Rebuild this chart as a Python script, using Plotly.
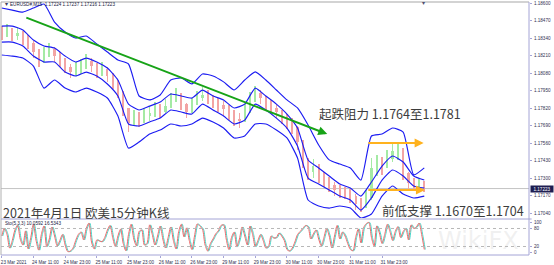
import plotly.graph_objects as go

# ---------------- data ----------------
candle_bar = list(range(0, 641, 8))          # 15-min bar index of each (aggregated) candle
first_open = 1.18401
candle_close = [1.18372, 1.18401, 1.18357, 1.18379, 1.18335, 1.18305, 1.18238, 1.18178, 1.18223, 1.18260,
                1.18208, 1.18171, 1.18126, 1.18089, 1.18112, 1.18134, 1.18171, 1.18134, 1.18089, 1.18112,
                1.18060, 1.18015, 1.17941, 1.17822, 1.17710, 1.17755, 1.17725, 1.17762, 1.17784, 1.17814,
                1.17792, 1.17836, 1.17881, 1.17926, 1.17851, 1.17792, 1.17844, 1.17896, 1.17918, 1.17889,
                1.17859, 1.17844, 1.17814, 1.17784, 1.17740, 1.17725, 1.17792, 1.17881, 1.17933, 1.17896,
                1.17851, 1.17822, 1.17792, 1.17747, 1.17718, 1.17680, 1.17569, 1.17435, 1.17346, 1.17390,
                1.17316, 1.17286, 1.17249, 1.17212, 1.17197, 1.17182, 1.17167, 1.17108, 1.17093, 1.17153,
                1.17376, 1.17405, 1.17383, 1.17442, 1.17502, 1.17509, 1.17338, 1.17264, 1.17249, 1.17257,
                1.17223]
candle_high = [1.18431, 1.18446, 1.18416, 1.18424, 1.18394, 1.18364, 1.18320, 1.18260, 1.18275, 1.18305,
               1.18275, 1.18238, 1.18193, 1.18149, 1.18164, 1.18186, 1.18223, 1.18193, 1.18156, 1.18164,
               1.18126, 1.18082, 1.18030, 1.17948, 1.17822, 1.17807, 1.17792, 1.17822, 1.17836, 1.17866,
               1.17851, 1.17889, 1.17933, 1.17970, 1.17933, 1.17859, 1.17896, 1.17948, 1.17978, 1.17955,
               1.17918, 1.17896, 1.17874, 1.17844, 1.17807, 1.17784, 1.17851, 1.17941, 1.17985, 1.17955,
               1.17911, 1.17881, 1.17851, 1.17807, 1.17777, 1.17747, 1.17688, 1.17584, 1.17450, 1.17442,
               1.17405, 1.17346, 1.17309, 1.17272, 1.17249, 1.17234, 1.17220, 1.17182, 1.17153, 1.17212,
               1.17450, 1.17472, 1.17457, 1.17509, 1.17561, 1.17569, 1.17524, 1.17346, 1.17301, 1.17301,
               1.17279]
candle_low = [1.18327, 1.18349, 1.18320, 1.18327, 1.18290, 1.18260, 1.18193, 1.18126, 1.18156, 1.18201,
              1.18164, 1.18126, 1.18082, 1.18045, 1.18060, 1.18074, 1.18112, 1.18089, 1.18045, 1.18060,
              1.18015, 1.17963, 1.17896, 1.17762, 1.17643, 1.17688, 1.17680, 1.17710, 1.17725, 1.17755,
              1.17747, 1.17784, 1.17822, 1.17866, 1.17807, 1.17747, 1.17784, 1.17844, 1.17874, 1.17851,
              1.17822, 1.17792, 1.17762, 1.17732, 1.17688, 1.17673, 1.17718, 1.17785, 1.17866, 1.17851,
              1.17807, 1.17777, 1.17747, 1.17703, 1.17665, 1.17628, 1.17509, 1.17376, 1.17286, 1.17301,
              1.17264, 1.17234, 1.17197, 1.17167, 1.17153, 1.17145, 1.17115, 1.17063, 1.17049, 1.17078,
              1.17140, 1.17316, 1.17324, 1.17376, 1.17420, 1.17435, 1.17286, 1.17212, 1.17205, 1.17212,
              1.17197]

band_bar = list(range(0, 641, 16))
band_outer_upper = [1.18565, 1.18550, 1.18535, 1.18565, 1.18595, 1.18461, 1.18387, 1.18342, 1.18357, 1.18298,
                    1.18238, 1.18179, 1.18149, 1.17911, 1.17882, 1.17919, 1.18030, 1.18045, 1.18001, 1.18075,
                    1.18060, 1.18016, 1.17956, 1.18030, 1.18090, 1.18030, 1.17956, 1.17882, 1.17822, 1.17695,
                    1.17547, 1.17436, 1.17405, 1.17376, 1.17286, 1.17614, 1.17628, 1.17673, 1.17643, 1.17325,
                    1.17377]
band_inner_upper = [1.18431, 1.18431, 1.18401, 1.18327, 1.18283, 1.18268, 1.18208, 1.18164, 1.18193, 1.18164,
                    1.18119, 1.18030, 1.17851, 1.17807, 1.17836, 1.17866, 1.17926, 1.17911, 1.17896, 1.17955,
                    1.17911, 1.17881, 1.17822, 1.17851, 1.17970, 1.17911, 1.17851, 1.17777, 1.17673, 1.17435,
                    1.17376, 1.17316, 1.17257, 1.17227, 1.17167, 1.17272, 1.17390, 1.17465, 1.17420, 1.17316,
                    1.17286]
band_inner_lower = [1.18312, 1.18312, 1.18283, 1.18208, 1.18164, 1.18164, 1.18089, 1.18060, 1.18089, 1.18060,
                    1.18000, 1.17911, 1.17703, 1.17688, 1.17718, 1.17747, 1.17807, 1.17792, 1.17777, 1.17851,
                    1.17807, 1.17762, 1.17703, 1.17732, 1.17851, 1.17807, 1.17747, 1.17673, 1.17539, 1.17301,
                    1.17257, 1.17212, 1.17167, 1.17138, 1.17063, 1.17153, 1.17286, 1.17361, 1.17316, 1.17242,
                    1.17227]
band_outer_lower = [1.18216, 1.18208, 1.18193, 1.18134, 1.17970, 1.18030, 1.17970, 1.17941, 1.17970, 1.17941,
                    1.17896, 1.17762, 1.17524, 1.17569, 1.17628, 1.17658, 1.17703, 1.17688, 1.17703, 1.17747,
                    1.17718, 1.17673, 1.17599, 1.17614, 1.17703, 1.17703, 1.17658, 1.17599, 1.17450, 1.17138,
                    1.17093, 1.17078, 1.17093, 1.17078, 1.17004, 1.17034, 1.17167, 1.17242, 1.17182, 1.17153,
                    1.17167]

stoch_bar = list(range(0, 641, 4))
stoch_k = [55, 80, 60, 15, 40, 75, 90, 45, 25, 72,
           12, 50, 94, 40, 8, 60, 88, 20, 45, 85,
           55, 22, 40, 60, 25, 3, 5, 15, 40, 60,
           68, 42, 80, 98, 35, 12, 42, 38, 36, 50,
           75, 90, 50, 20, 55, 78, 30, 6, 60, 94,
           45, 22, 70, 75, 25, 30, 92, 60, 25, 55,
           88, 45, 15, 50, 85, 40, 12, 70, 94, 52,
           82, 40, 10, 55, 95, 88, 78, 25, 5, 30,
           45, 62, 72, 90, 92, 45, 10, 50, 68, 20,
           45, 85, 55, 25, 88, 60, 20, 40, 60, 40,
           15, 20, 55, 48, 50, 65, 55, 40, 10, 5,
           15, 35, 60, 70, 80, 90, 85, 45, 62, 75,
           45, 22, 50, 80, 55, 15, 55, 90, 45, 68,
           55, 30, 10, 6, 50, 78, 32, 82, 96, 100,
           50, 22, 88, 65, 30, 60, 94, 70, 40, 70,
           86, 50, 70, 80, 42, 92, 80, 85, 98, 60,
           10]
stoch_signal_lag = 1.5   # signal line trails the main line by ~1.5 bars

price_ticks = [1.18600, 1.18470, 1.18340, 1.18210, 1.18080, 1.17950, 1.17820,
               1.17690, 1.17560, 1.17430, 1.17300, 1.17170, 1.17040]
stoch_ticks = [0, 20, 80, 100]
time_tick_bar = [0, 48, 96, 144, 192, 240, 288, 336, 384, 432, 480, 528, 576]
time_tick_text = ["23 Mar 2021", "24 Mar 11:00", "24 Mar 23:00", "25 Mar 11:00", "25 Mar 23:00",
                  "26 Mar 11:00", "26 Mar 23:00", "29 Mar 11:00", "29 Mar 23:00", "30 Mar 11:00",
                  "30 Mar 23:00", "31 Mar 11:00", "31 Mar 23:00"]
last_price = 1.17223
trend_bar = [35, 493]
trend_price = [1.18498, 1.17628]
resist_bar = [553, 639]
resist_price = 1.17561
support_bar = [553, 641]
support_price = 1.17212

# ---------------- geometry helpers ----------------
W, H = 554, 265
ML, MR, MT, MB = 1, 25, 2, 10
PW = W - ML - MR
PH = H - MT - MB


def px(x):
    return (x - ML) / PW


def py(y):
    return 1 - (y - MT) / PH


BULL = "#a4eaa4"
BEAR = "#f2a4a4"
BLUE = "#1c1cf2"

opens = [first_open] + candle_close[:-1]
colors = [BULL if c >= o else BEAR for o, c in zip(opens, candle_close)]

fig = go.Figure()

# wicks
fig.add_trace(go.Bar(x=candle_bar, y=[h - l for h, l in zip(candle_high, candle_low)], base=candle_low,
                     width=1.1, marker=dict(color=colors, line=dict(width=0)), xaxis="x", yaxis="y",
                     hoverinfo="skip", showlegend=False))
# bodies
fig.add_trace(go.Bar(x=candle_bar, y=[max(abs(c - o), 0.00003) for o, c in zip(opens, candle_close)],
                     base=[min(o, c) for o, c in zip(opens, candle_close)],
                     width=3.4, marker=dict(color=colors, line=dict(width=0)), xaxis="x", yaxis="y",
                     hoverinfo="skip", showlegend=False))

for band in (band_outer_upper, band_inner_upper, band_inner_lower, band_outer_lower):
    fig.add_trace(go.Scatter(x=band_bar, y=band, mode="lines", xaxis="x", yaxis="y",
                             line=dict(color=BLUE, width=1.15, shape="spline", smoothing=0.5),
                             hoverinfo="skip", showlegend=False))

# stochastic
fig.add_trace(go.Scatter(x=[b + stoch_signal_lag for b in stoch_bar], y=stoch_k, mode="lines",
                         xaxis="x", yaxis="y2",
                         line=dict(color="#45d8cc", width=1, shape="spline", smoothing=0.8),
                         hoverinfo="skip", showlegend=False))
fig.add_trace(go.Scatter(x=stoch_bar, y=stoch_k, mode="lines", xaxis="x", yaxis="y2",
                         line=dict(color="#f06a6a", width=1, shape="spline", smoothing=0.8),
                         hoverinfo="skip", showlegend=False))

FRAME = "#a4a4d6"
shapes = [
    dict(type="line", xref="paper", yref="y", x0=0, x1=1, y0=last_price, y1=last_price,
         line=dict(color="#c4c4c4", width=1), layer="below"),
    dict(type="line", xref="paper", yref="y2", x0=0, x1=1, y0=20, y1=20,
         line=dict(color="#b8b8b8", width=1, dash="dot")),
    dict(type="line", xref="paper", yref="y2", x0=0, x1=1, y0=80, y1=80,
         line=dict(color="#b8b8b8", width=1, dash="dot")),
    dict(type="line", xref="paper", yref="paper", x0=0, x1=1, y0=1, y1=1, line=dict(color="#a8a8a8", width=1.2)),
    dict(type="line", xref="paper", yref="paper", x0=0, x1=0, y0=0, y1=1, line=dict(color="#b0b0b0", width=1)),
    dict(type="line", xref="paper", yref="paper", x0=1, x1=1, y0=0, y1=1, line=dict(color=FRAME, width=1)),
    dict(type="line", xref="paper", yref="paper", x0=0, x1=1, y0=0, y1=0, line=dict(color=FRAME, width=1)),
    dict(type="line", xref="paper", yref="paper", x0=0, x1=1.005, y0=py(219), y1=py(219),
         line=dict(color=FRAME, width=1)),
]

TXT = "#3c3c3c"
CJK = "Noto Sans CJK SC"
SMALL = dict(family="Liberation Sans", size=4.6, color="#202040")
annotations = [
    dict(text="EURUSD#,M15  1.17224 1.17237 1.17216 1.17223", xref="paper", yref="paper",
         x=px(8), y=py(4.5), xanchor="left", yanchor="middle", showarrow=False, font=SMALL),
    dict(text="▾", xref="paper", yref="paper", x=px(3), y=py(4), xanchor="left", yanchor="middle",
         showarrow=False, font=dict(size=6, color="#404060")),
    dict(text="▾", xref="paper", yref="paper", x=px(423), y=py(3), xanchor="center", yanchor="middle",
         showarrow=False, font=dict(size=6, color="#505070")),
    dict(text="Sto(5,3,3) 10.0592 16.5343", xref="paper", yref="paper",
         x=px(3), y=py(223.5), xanchor="left", yanchor="middle", showarrow=False, font=SMALL),
    dict(text="WikiFX", xref="paper", yref="paper", x=px(478), y=py(241), xanchor="center", yanchor="middle",
         showarrow=False, font=dict(family="DejaVu Sans", size=24, color="rgba(190,190,190,0.22)")),
    dict(text="起跌阻力 1.1764至1.1781", xref="paper", yref="paper", x=px(317), y=py(113),
         xanchor="left", yanchor="middle", showarrow=False, font=dict(family=CJK, size=12.5, color=TXT)),
    dict(text="前低支撑 1.1670至1.1704", xref="paper", yref="paper", x=px(380), y=py(210),
         xanchor="left", yanchor="middle", showarrow=False, font=dict(family=CJK, size=12.5, color=TXT)),
    dict(text="2021年4月1日 欧美15分钟K线", xref="paper", yref="paper", x=px(1), y=py(212.5),
         xanchor="left", yanchor="middle", showarrow=False, font=dict(family=CJK, size=12.5, color=TXT)),
    dict(text="1.17223", xref="paper", yref="y", x=px(530), y=last_price, xanchor="left", yanchor="middle",
         showarrow=False, bgcolor="#1e1e52", width=22, height=6, borderpad=0,
         font=dict(family="Liberation Sans", size=4.6, color="white")),
    dict(text="", x=trend_bar[1], y=trend_price[1], ax=trend_bar[0], ay=trend_price[0],
         xref="x", yref="y", axref="x", ayref="y", showarrow=True, arrowhead=2, arrowsize=0.9,
         arrowwidth=2, arrowcolor="#17a317"),
    dict(text="", x=resist_bar[1], y=resist_price, ax=resist_bar[0], ay=resist_price,
         xref="x", yref="y", axref="x", ayref="y", showarrow=True, arrowhead=2, arrowsize=0.9,
         arrowwidth=2, arrowcolor="#ffb21e"),
    dict(text="", x=support_bar[1], y=support_price, ax=support_bar[0], ay=support_price,
         xref="x", yref="y", axref="x", ayref="y", showarrow=True, arrowhead=2, arrowsize=0.9,
         arrowwidth=2, arrowcolor="#ffb21e"),
]

TICKFONT = dict(family="Liberation Sans", size=4.6, color="#303050")
fig.update_layout(
    width=W, height=H, margin=dict(l=ML, r=MR, t=MT, b=MB),
    paper_bgcolor="white", plot_bgcolor="white", barmode="overlay", bargap=0,
    showlegend=False, shapes=shapes, annotations=annotations,
    xaxis=dict(domain=[0, 1], range=[-1.1, 798.6], anchor="y2", showgrid=False, zeroline=False,
               tickmode="array", tickvals=time_tick_bar, ticktext=time_tick_text, tickfont=TICKFONT,
               ticks="outside", ticklen=2, tickcolor=FRAME, ticklabelshift=12, ticklabelstandoff=0,
               fixedrange=True),
    yaxis=dict(domain=[py(218), 1], range=[1.17004, 1.18610], side="right", anchor="x",
               showgrid=False, zeroline=False, tickmode="array", tickvals=price_ticks,
               ticktext=["%.5f" % v for v in price_ticks], tickfont=TICKFONT,
               ticks="outside", ticklen=2, tickcolor=FRAME, ticklabelstandoff=1),
    yaxis2=dict(domain=[0, py(220)], range=[-8.3, 108.3], side="right", anchor="x",
                showgrid=False, zeroline=False, tickmode="array", tickvals=stoch_ticks,
                ticktext=[str(v) for v in stoch_ticks], tickfont=TICKFONT,
                ticks="outside", ticklen=2, tickcolor=FRAME, ticklabelstandoff=1),
)

fig.write_html("out.html")
